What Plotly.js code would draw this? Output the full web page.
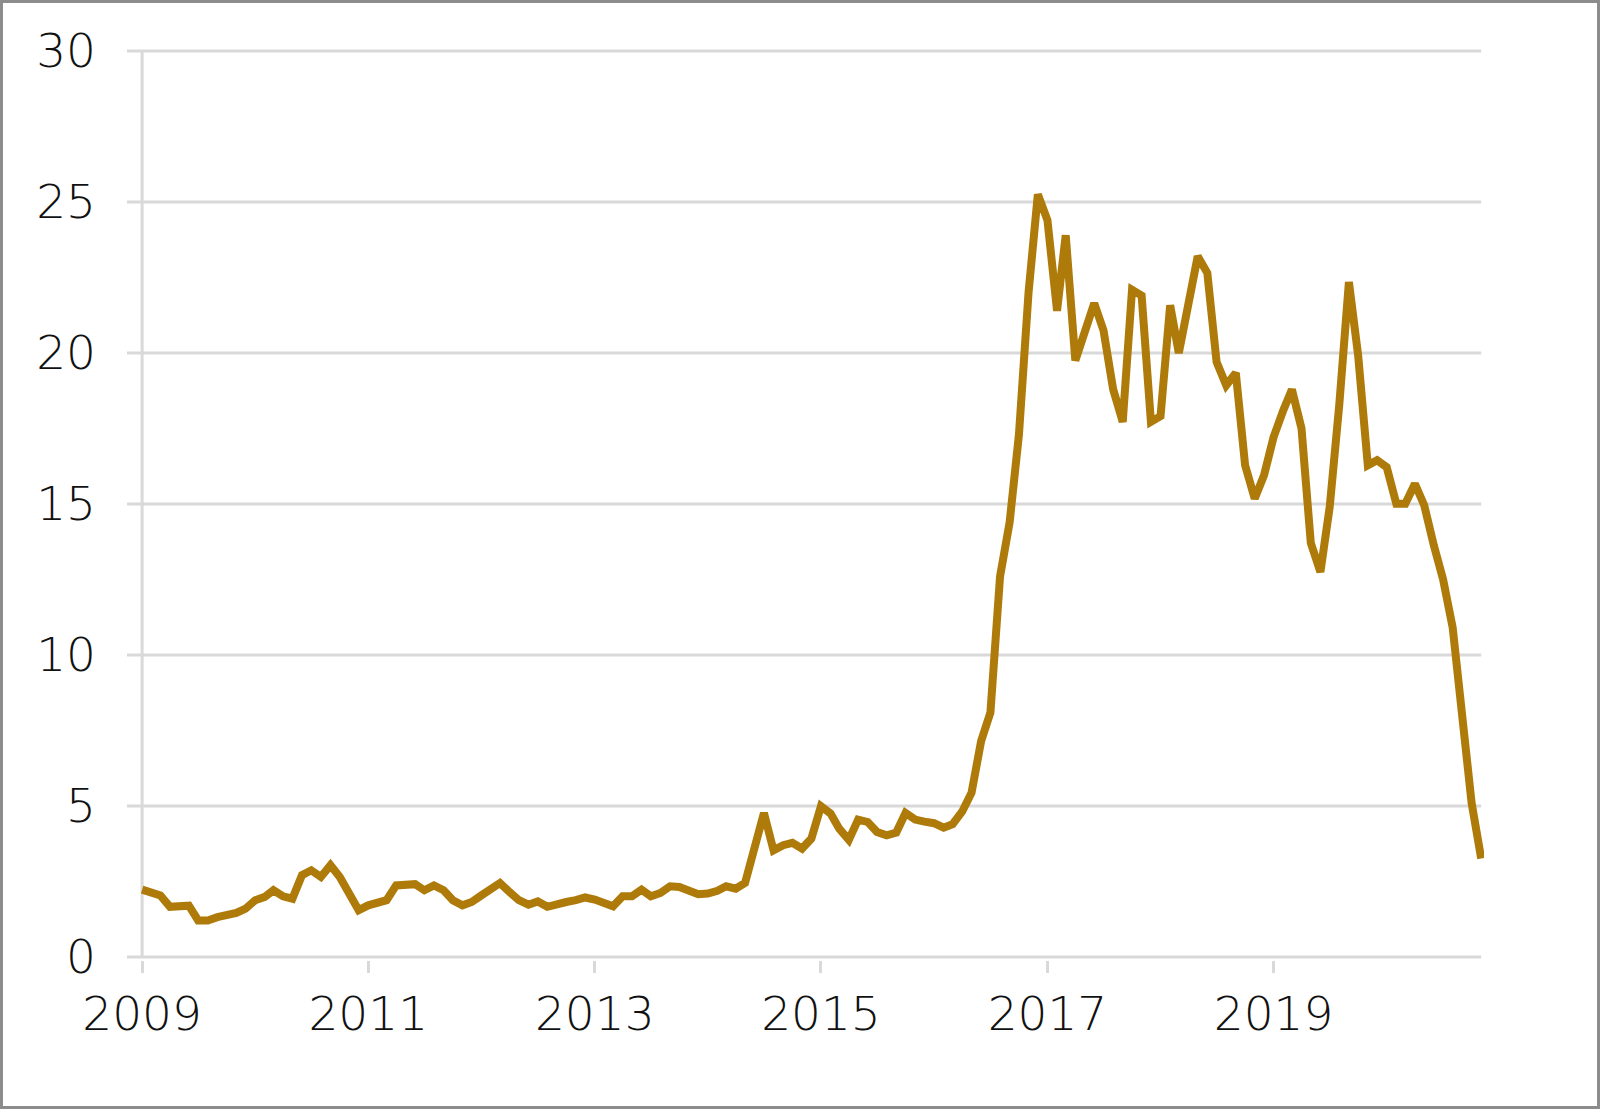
<!DOCTYPE html>
<html>
<head>
<meta charset="utf-8">
<script src="https://cdn.plot.ly/plotly-3.0.1.min.js"></script>
<style>
  html, body { margin: 0; padding: 0; background: #ffffff; }
  #wrap { position: relative; width: 1600px; height: 1109px; }
  #chart { position: absolute; left: 0; top: 0; width: 1600px; height: 1109px; }
  #frame { position: absolute; left: 0; top: 0; width: 1600px; height: 1109px; box-sizing: border-box; border: 3px solid #8c8c8c; pointer-events: none; }
</style>
</head>
<body>
<div id="wrap">
  <div id="chart"></div>
  <div id="frame"></div>
</div>
<script>
// Monthly series, January 2009 to November 2020
const startYear = 2009;
const startMonth = 1;
const values = [
  2.23, 2.15, 2.04, 1.66, 1.66, 1.70, 1.21, 1.21, 1.32, 1.38, 1.46, 1.60,
  1.88, 1.99, 2.21, 2.01, 1.93, 2.71, 2.87, 2.65, 3.04, 2.65, 2.10, 1.55,
  1.71, 1.77, 1.88, 2.37, 2.37, 2.41, 2.21, 2.37, 2.21, 1.88, 1.71, 1.82,
  2.04, 2.26, 2.45, 2.15, 1.88, 1.73, 1.84, 1.66, 1.71, 1.82, 1.88, 1.97,
  1.90, 1.79, 1.68, 2.01, 2.01, 2.23, 2.01, 2.12, 2.34, 2.32, 2.21, 2.08,
  2.10, 2.19, 2.34, 2.26, 2.45, 3.60, 4.77, 3.53, 3.70, 3.78, 3.59, 3.92,
  4.99, 4.75, 4.25, 3.88, 4.55, 4.47, 4.14, 4.03, 4.12, 4.77, 4.55, 4.48,
  4.43, 4.28, 4.40, 4.82, 5.44, 7.15, 8.10, 12.6, 14.4, 17.3, 22.0, 25.25,
  24.4, 21.4, 23.9, 19.75, 20.7, 21.65, 20.75, 18.8, 17.72, 22.09, 21.9, 17.72,
  17.91, 21.58, 20.0, 21.6, 23.2, 22.65, 19.7, 18.93, 19.34, 16.28, 15.18, 15.95,
  17.22, 18.1, 18.79, 17.5, 13.71, 12.75, 14.9, 18.3, 22.35, 19.9, 16.28, 16.45,
  16.22, 15.01, 15.01, 15.67, 14.96, 13.63, 12.5, 10.9, 8.0, 5.1, 3.26
];
const yTicks = [0, 5, 10, 15, 20, 25, 30];
const yMin = 0;
const yMax = 30;
const xRange = ['2008-12-22', '2020-11-10'];
const yRange = [-0.1, 30.1];
const axisStart = '2009-01-01';
const lastMonth = '2020-11-01';

const months = values.map(function (v, i) {
  const m = startMonth - 1 + i;
  const y = startYear + Math.floor(m / 12);
  const mm = (m % 12) + 1;
  return y + '-' + (mm < 10 ? '0' + mm : '' + mm) + '-01';
});

const W = 1600, H = 1109;
const margin = { l: 138.6, r: 115.5, t: 47.7, b: 149.3, pad: 0 };
const plotW = W - margin.l - margin.r;
const yTickLen = 12; // gridlines run into the margin as tick marks
const gridEndTrim = 9 * 0.3102; // gridlines stop at the last month
const gridColor = '#d9d9d9';
const tickFont = { family: '"DejaVu Sans", sans-serif', size: 47, color: '#111111', weight: 200 };

const trace = {
  x: months,
  y: values,
  type: 'scatter',
  mode: 'lines',
  line: { color: '#AE7B0B', width: 8 },
  hoverinfo: 'x+y'
};

// horizontal gridlines, extended left into the margin as tick marks
const shapes = yTicks.map(function (t) {
  return {
    type: 'line', xref: 'paper', yref: 'y',
    x0: -yTickLen / plotW, x1: 1 - gridEndTrim / plotW, y0: t, y1: t,
    line: { color: gridColor, width: 3 },
    layer: 'below'
  };
});
// vertical axis line
shapes.push({
  type: 'line', xref: 'x', yref: 'y',
  x0: axisStart, x1: axisStart, y0: yMin, y1: yMax,
  line: { color: gridColor, width: 3 },
  layer: 'below'
});

const layout = {
  width: W,
  height: H,
  margin: margin,
  paper_bgcolor: '#ffffff',
  plot_bgcolor: '#ffffff',
  showlegend: false,
  xaxis: {
    type: 'date',
    range: xRange,
    tick0: '2009-01-01',
    dtick: 'M24',
    tickformat: '%Y',
    ticks: 'outside',
    ticklen: 12,
    tickwidth: 3,
    tickcolor: gridColor,
    showgrid: false,
    zeroline: false,
    showline: false,
    tickfont: tickFont,
    ticklabelstandoff: 1
  },
  yaxis: {
    range: yRange,
    tickvals: yTicks,
    ticktext: yTicks.map(String),
    ticks: '',
    showgrid: false,
    zeroline: false,
    showline: false,
    tickfont: tickFont,
    ticklabelstandoff: 42
  },
  shapes: shapes
};

Plotly.newPlot('chart', [trace], layout, { staticPlot: true, displayModeBar: false });
</script>
</body>
</html>
